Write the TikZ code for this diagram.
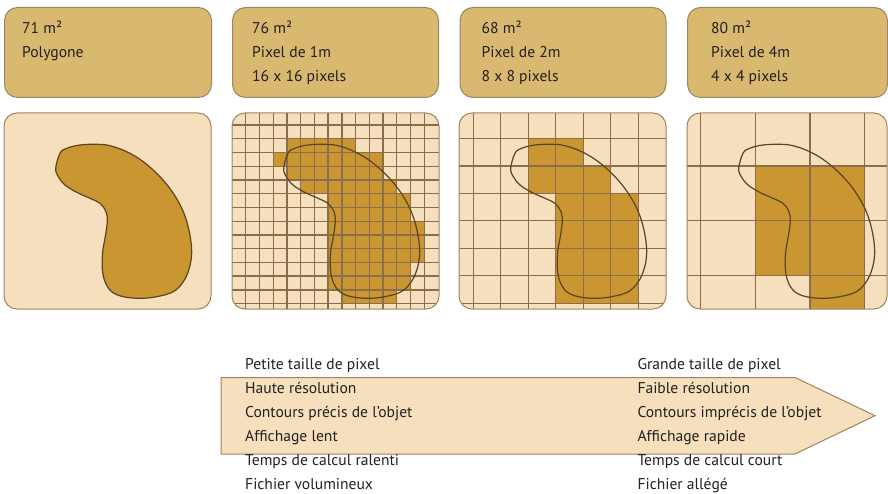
\documentclass[tikz,border=0pt]{standalone}
\usepackage{fontspec}
\setmainfont{PT Sans}
\definecolor{boxfill}{HTML}{D9B870}
\definecolor{boxline}{HTML}{9C8464}
\definecolor{panelfill}{HTML}{F6DFBC}
\definecolor{pixfill}{HTML}{C99632}
\definecolor{gridcol}{HTML}{8A6D4B}
\definecolor{blobline}{HTML}{5C4322}
\definecolor{txt}{HTML}{231F20}
\begin{document}
\begin{tikzpicture}[x=1pt,y=-1pt,
  topbox/.style={draw=boxline, fill=boxfill, line width=1pt, rounded corners=13pt, anchor=north west, inner sep=0pt},
  panelborder/.style={draw=boxline, line width=1pt, rounded corners=13pt},
  lbl/.style={anchor=base west, inner sep=0pt, font=\fontsize{15.6}{18}\selectfont, text=txt},
  pix/.style={fill=pixfill},
  gridline/.style={draw=gridcol, line width=1.3pt},
  blob/.style={draw=blobline, line width=1.2pt},
  pics/kidney/.style={code={
    \path[#1] plot[smooth cycle, tension=0.6] coordinates {
      (56,40.3) (62.7,35.3) (76,32) (92.7,31.3) (106,32.7) (122.7,38.7)
      (139.3,48.7) (156,63.7) (169.3,80.3) (179.3,98.7) (185.3,118.7)
      (187.7,138.7) (185.3,155.3) (179.3,168.7) (169.3,178.7) (152.7,183.7)
      (136,185.3) (119.3,183.7) (107.7,178.7) (101,168.7) (98.3,155.3)
      (98.7,138.7) (101,125.3) (103.3,108.7) (102,98.7) (96,90.3) (86,85.3)
      (72.7,79.3) (61,72) (54.3,63.7) (51.7,55.3)};
  }},
]
\useasboundingbox (0,0) rectangle (888,494);

% ---------- top boxes ----------
\node[topbox, minimum width=207pt, minimum height=90pt] (b1) at (4,7) {};
\node[topbox, minimum width=206pt, minimum height=90pt] (b2) at (232,7) {};
\node[topbox, minimum width=206pt, minimum height=90pt] (b3) at (459.5,7) {};
\node[topbox, minimum width=200pt, minimum height=90pt] (b4) at (687,7) {};

\node[lbl] (t1a) at (22,33.3) {71 m²};
\node[lbl] (t1b) at (22,57.3) {Polygone};
\node[lbl] (t2a) at (252,33.3) {76 m²};
\node[lbl] (t2b) at (252,57.3) {Pixel de 1m};
\node[lbl] (t2c) at (252,81.3) {16 x 16 pixels};
\node[lbl] (t3a) at (481.5,33.3) {68 m²};
\node[lbl] (t3b) at (481.5,57.3) {Pixel de 2m};
\node[lbl] (t3c) at (481.5,81.3) {8 x 8 pixels};
\node[lbl] (t4a) at (711,33.3) {80 m²};
\node[lbl] (t4b) at (711,57.3) {Pixel de 4m};
\node[lbl] (t4c) at (711,81.3) {4 x 4 pixels};

% ---------- panel 1 : polygon ----------
\fill[panelfill, rounded corners=13pt] (4,113) rectangle (211,309);
\pic at (4,113) {kidney={blob, fill=pixfill}};
\draw[panelborder] (4,113) rectangle (211,309);

% ---------- panel 2 : 16 x 16 ----------
\begin{scope}
  \clip[rounded corners=13pt] (232,113) rectangle (439,309);
  \fill[panelfill] (232,113) rectangle (439,309);
  \begin{scope}[shift={(245.7,125)}, x=13.74pt, y=-13.74pt]
    \fill[pix] (3,1) rectangle (8,2);
    \fill[pix] (2,2) rectangle (10,3);
    \fill[pix] (3,3) rectangle (10,4);
    \fill[pix] (4,4) rectangle (11,5);
    \fill[pix] (6,5) rectangle (12,7);
    \fill[pix] (6,7) rectangle (13,10);
    \fill[pix] (6,10) rectangle (12,12);
    \fill[pix] (7,12) rectangle (11,13);
    \foreach \i in {0,...,13} \draw[gridline] (\i,-2) -- (\i,15);
    \foreach \j in {0,...,13} \draw[gridline] (-2,\j) -- (16,\j);
  \end{scope}
  \pic at (232,113) {kidney={blob}};
\end{scope}
\draw[panelborder] (232,113) rectangle (439,309);

% ---------- panel 3 : 8 x 8 ----------
\begin{scope}
  \clip[rounded corners=13pt] (459,113) rectangle (666,309);
  \fill[panelfill] (459,113) rectangle (666,309);
  \begin{scope}[shift={(473.3,138.4)}, x=27.48pt, y=-27.48pt]
    \fill[pix] (2,0) rectangle (4,1);
    \fill[pix] (2,1) rectangle (5,2);
    \fill[pix] (3,2) rectangle (6,6);
    \foreach \i in {0,...,6} \draw[gridline] (\i,-2) -- (\i,8);
    \foreach \j in {0,...,6} \draw[gridline] (-2,\j) -- (8,\j);
  \end{scope}
  \pic at (459,113) {kidney={blob}};
\end{scope}
\draw[panelborder] (459,113) rectangle (666,309);

% ---------- panel 4 : 4 x 4 ----------
\begin{scope}
  \clip[rounded corners=13pt] (687,113) rectangle (887,309);
  \fill[panelfill] (687,113) rectangle (887,309);
  \begin{scope}[shift={(700.7,166)}, x=54.7pt, y=-54.7pt]
    \fill[pix] (1,0) rectangle (3,2);
    \fill[pix] (2,2) rectangle (3,3);
    \foreach \i in {0,...,3} \draw[gridline] (\i,-2) -- (\i,4);
    \foreach \j in {0,...,2} \draw[gridline] (-2,\j) -- (4,\j);
  \end{scope}
  \pic at (687,113) {kidney={blob}};
\end{scope}
\draw[panelborder] (687,113) rectangle (887,309);

% ---------- arrow ----------
\draw[draw=boxline, fill=panelfill, line width=1pt]
  (221,377.5) -- (795,377.5) -- (875,415.7) -- (795,454) -- (221,454) -- cycle;

\node[lbl] (l1) at (245,369) {Petite taille de pixel};
\node[lbl] (l2) at (245,393) {Haute résolution};
\node[lbl] (l3) at (245,417) {Contours précis de l’objet};
\node[lbl] (l4) at (245,441) {Affichage lent};
\node[lbl] (l5) at (245,465) {Temps de calcul ralenti};
\node[lbl] (l6) at (245,489) {Fichier volumineux};

\node[lbl] (r1) at (637.3,369) {Grande taille de pixel};
\node[lbl] (r2) at (637.3,393) {Faible résolution};
\node[lbl] (r3) at (637.3,417) {Contours imprécis de l’objet};
\node[lbl] (r4) at (637.3,441) {Affichage rapide};
\node[lbl] (r5) at (637.3,465) {Temps de calcul court};
\node[lbl] (r6) at (637.3,489) {Fichier allégé};
\end{tikzpicture}
\end{document}
